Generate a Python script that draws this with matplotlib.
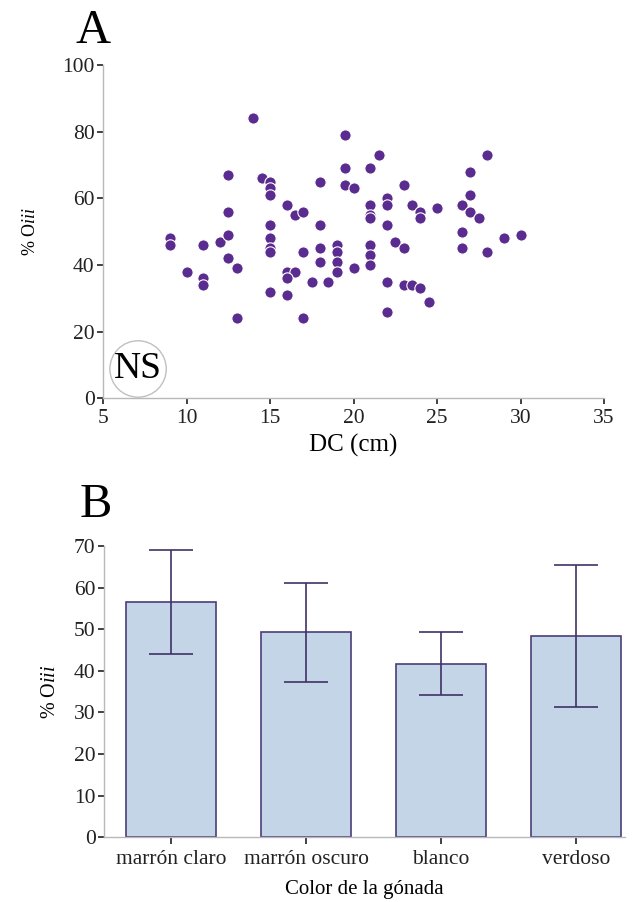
import numpy as np
import matplotlib
matplotlib.use('Agg')
import matplotlib.pyplot as plt

plt.rcParams['font.family'] = ['Liberation Serif', 'DejaVu Serif']
plt.rcParams['mathtext.fontset'] = 'custom'
plt.rcParams['mathtext.rm'] = 'Liberation Serif'
plt.rcParams['mathtext.it'] = 'Liberation Serif:italic'

# panel A: DC (cm) vs % Oiii
dc = [14, 12.5, 14.5, 15, 15, 15, 12.5, 15, 9, 9, 11, 12, 12.5, 15, 15, 15,
      12.5, 13, 10, 11, 11, 15, 13,
      19.5, 21.5, 19.5, 21, 28, 27, 18, 19.5, 20, 23, 27, 16, 16.5, 17, 18,
      21, 21, 21, 22, 22, 22, 23.5, 24, 24, 25, 26.5, 27, 27.5, 26.5, 26.5,
      28, 29, 30, 17, 18, 18, 19, 19, 19, 19, 20, 21, 21, 21, 22.5, 23,
      16, 16.5, 16, 17.5, 18.5, 22, 23, 23.5, 24, 24.5, 16, 17, 22]
oiii = [84, 67, 66, 65, 63, 61, 56, 52, 48, 46, 46, 47, 49, 48, 45, 44,
        42, 39, 38, 36, 34, 32, 24,
        79, 73, 69, 69, 73, 68, 65, 64, 63, 64, 61, 58, 55, 56, 52,
        58, 55, 54, 60, 58, 52, 58, 56, 54, 57, 58, 56, 54, 50, 45,
        44, 48, 49, 44, 45, 41, 46, 44, 41, 38, 39, 46, 43, 40, 47, 45,
        38, 38, 36, 35, 35, 35, 34, 34, 33, 29, 31, 24, 26]

# panel B: gonad colour
colores = ['marrón claro', 'marrón oscuro', 'blanco', 'verdoso']
medias = [56.5, 49.3, 41.7, 48.4]
desvios = [12.5, 11.9, 7.6, 17.0]

W, H = 637, 902
fig = plt.figure(figsize=(W / 100, H / 100), dpi=100)

spine_col = '#b8b8b8'
tick_col = '#333333'


def style_axes(ax):
    for s in ['top', 'right']:
        ax.spines[s].set_visible(False)
    for s in ['left', 'bottom']:
        ax.spines[s].set_color(spine_col)
        ax.spines[s].set_linewidth(1.0)
    ax.tick_params(direction='out', length=4, width=1.3, color=tick_col,
                   labelsize=15.5, pad=2, labelcolor='#222222')


# ---- A ----
ax1 = fig.add_axes([103 / W, 1 - 398.3 / H, (604 - 103) / W, (398.3 - 65) / H])
style_axes(ax1)
ax1.scatter(dc, oiii, s=66, color='#5b2c8f', edgecolor='white', linewidth=0.8,
            zorder=3, clip_on=False)
ax1.set_xlim(5, 35)
ax1.set_ylim(0, 100)
ax1.set_xticks(np.arange(5, 36, 5))
ax1.set_yticks(np.arange(0, 101, 20))
ax1.tick_params(axis='x', pad=4)
ax1.set_xlabel('DC (cm)', fontsize=18, labelpad=4)
ax1.set_ylabel(r'% O$\mathit{iii}$', fontsize=13, labelpad=17)
ax1.scatter([7.1], [8.8], s=1650, facecolor='none', edgecolor='#c0c0c0',
            linewidth=1.0, zorder=2, clip_on=False)
ax1.text(7.1, 8.8, 'NS', fontsize=27, ha='center', va='center', zorder=4)
fig.text(76 / W, 1 - 43 / H, 'A', fontsize=35, va='baseline', ha='left')

# ---- B ----
ax2 = fig.add_axes([104 / W, 1 - 837.3 / H, (625 - 104) / W, (837.3 - 546) / H])
style_axes(ax2)
xpos = np.arange(len(colores))
ax2.bar(xpos, medias, width=0.664, color='#c4d5e7', edgecolor='#4b3d7a',
        linewidth=1.2, zorder=2)
ax2.errorbar(xpos, medias, yerr=desvios, fmt='none', ecolor='#3f3166',
             elinewidth=1.2, capsize=16, capthick=1.2, zorder=3)
ax2.set_xlim(-0.497, 3.363)
ax2.set_ylim(0, 70)
ax2.set_yticks(np.arange(0, 71, 10))
ax2.set_xticks(xpos)
ax2.set_xticklabels(colores)
ax2.tick_params(axis='x', length=5, pad=4)
ax2.set_xlabel('Color de la gónada', fontsize=15, labelpad=8)
ax2.set_ylabel(r'% O$\mathit{iii}$', fontsize=14.5, labelpad=10)
fig.text(80 / W, 1 - 517 / H, 'B', fontsize=35, va='baseline', ha='left')

fig.savefig('out.png', dpi=100)
